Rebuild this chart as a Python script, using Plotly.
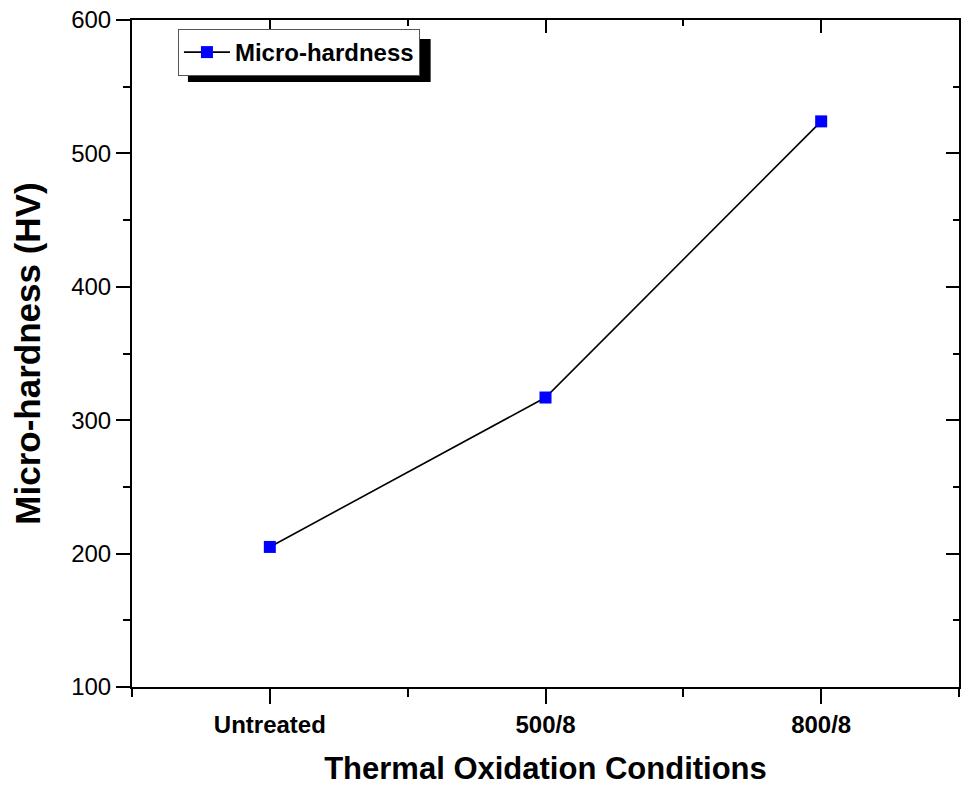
import plotly.graph_objects as go

conditions = ["Untreated", "500/8", "800/8"]
positions = [1, 2, 3]
hardness = [205, 317, 524]

FONT = "Liberation Sans, Arial, sans-serif"

fig = go.Figure()
fig.add_trace(go.Scatter(
    x=positions, y=hardness, mode="lines+markers", name="<b>Micro-hardness</b>",
    line=dict(color="black", width=1.6),
    marker=dict(symbol="square", size=12, color="#0000FF", line=dict(width=0)),
))
# invisible trace to activate overlay axes
fig.add_trace(go.Scatter(x=[1], y=[100], xaxis="x2", yaxis="y2", mode="markers",
                         marker=dict(opacity=0), showlegend=False, hoverinfo="skip"))

axis_common = dict(showgrid=False, zeroline=False, showline=True, linecolor="black",
                   linewidth=2, tickcolor="black", tickwidth=2)

fig.update_layout(
    width=961, height=786,
    margin=dict(l=132, r=2, t=20, b=99),
    paper_bgcolor="white", plot_bgcolor="white",
    font=dict(family=FONT, color="black"),
    xaxis=dict(range=[0.5, 3.5], tickvals=positions,
               ticktext=["<b>%s</b>" % c for c in conditions],
               ticks="outside", ticklen=15,
               minor=dict(tick0=0.5, dtick=0.5, ticks="outside", ticklen=8,
                          tickcolor="black", tickwidth=2),
               tickfont=dict(size=24, family=FONT),
               title=dict(text="<b>Thermal Oxidation Conditions</b>",
                          font=dict(size=31, family=FONT), standoff=22),
               **axis_common),
    yaxis=dict(range=[100, 600], tick0=100, dtick=100,
               ticks="outside", ticklen=14,
               minor=dict(tick0=100, dtick=50, ticks="outside", ticklen=7,
                          tickcolor="black", tickwidth=2),
               tickfont=dict(size=24, family=FONT),
               title=dict(text="<b>Micro-hardness (HV)</b>",
                          font=dict(size=35, family=FONT), standoff=20),
               **axis_common),
    xaxis2=dict(range=[0.5, 3.5], overlaying="x", side="top", tickvals=positions,
                showticklabels=False, ticks="inside", ticklen=13,
                minor=dict(tick0=0.5, dtick=0.5, ticks="inside", ticklen=6,
                           tickcolor="black", tickwidth=2),
                **axis_common),
    yaxis2=dict(range=[100, 600], overlaying="y", side="right", tick0=100, dtick=100,
                showticklabels=False, ticks="inside", ticklen=13,
                minor=dict(tick0=100, dtick=50, ticks="inside", ticklen=6,
                           tickcolor="black", tickwidth=2),
                **axis_common),
    showlegend=True,
    legend=dict(x=(178 - 132) / 828, y=(687 - 29) / 667, xanchor="left", yanchor="top",
                bgcolor="white", bordercolor="#555555", borderwidth=1,
                font=dict(size=24, family=FONT), itemwidth=46,
                tracegroupgap=0),
)

# legend drop shadow (legend box offset by 10 px)
fig.add_shape(type="rect", xref="paper", yref="paper",
              x0=(188 - 132) / 828, x1=(431 - 132) / 828,
              y0=(687 - 82) / 667, y1=(687 - 39) / 667,
              fillcolor="black", line=dict(width=0), layer="above")

fig.write_html("out.html")
